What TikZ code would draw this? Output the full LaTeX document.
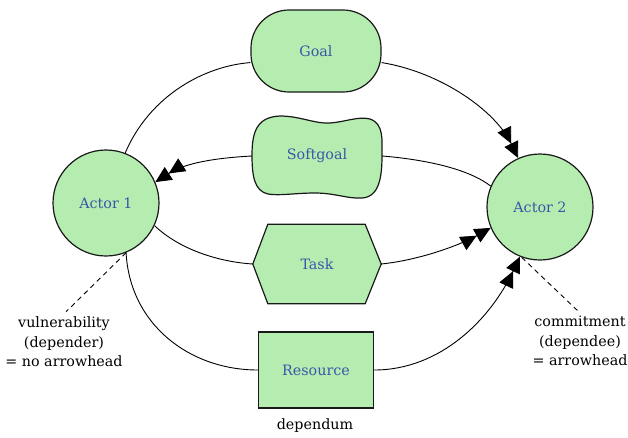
\documentclass[tikz,border=0pt]{standalone}
\usepackage{fontspec}
\setmainfont{DejaVu Serif}
\usetikzlibrary{arrows.meta,calc}
\definecolor{elemfill}{HTML}{B5EDB0}
\definecolor{elemtext}{HTML}{3A56A8}
\pgfdeclarelayer{background}
\pgfsetlayers{background,main}
\begin{document}
\begin{tikzpicture}[x=1pt,y=-1pt,
  every node/.style={font=\fontsize{14.3}{19.5}\selectfont},
  elem/.style={draw=black!90, line width=1.2pt, fill=elemfill, text=elemtext, inner sep=0pt},
  ghost/.style={inner sep=0pt, text=elemtext},
  actor/.style={elem, circle, minimum size=106pt},
  link/.style={line width=0.9pt},
  dep/.style={link, -{Triangle[length=16pt,width=15pt]Triangle[length=16pt,width=15pt]}},
  note/.style={align=center, text=black, inner sep=3pt},
]
\useasboundingbox (0,0) rectangle (628,437);

% actors
\node[actor] (a1) at (106,203) {Actor 1};
\node[actor] (a2) at (540,207) {Actor 2};

% dependums
\node[elem, rounded corners=38pt, minimum width=130pt, minimum height=82pt] (goal) at (316,51) {Goal};
\node[ghost, minimum width=130pt, minimum height=83pt] (soft) at (317,156) {Softgoal};
\node[ghost, minimum width=128pt, minimum height=79pt] (task) at (317,264) {Task};
\node[elem, minimum width=115pt, minimum height=76pt] (res) at (316,370) {Resource};
\node[text=black] (dependum) at (315,426) {dependum};

% outlines of the softgoal cloud and the task hexagon
\begin{pgfonlayer}{background}
  \draw[elem] (252,155) .. controls (252,130) and (258,117) .. (280,116)
    .. controls (300,116) and (315,124) .. (330,123)
    .. controls (345,122) and (358,116) .. (370,119)
    .. controls (384,124) and (382,140) .. (382,155)
    .. controls (382,175) and (380,197) .. (362,198)
    .. controls (348,199) and (335,193) .. (315,193)
    .. controls (295,193) and (280,196) .. (268,194)
    .. controls (254,191) and (252,175) .. cycle;
  \draw[elem] (task.west) -- ($(task.north west)+(15,0)$) -- ($(task.north east)+(-16,0)$)
    -- (task.east) -- ($(task.south east)+(-16,0)$) -- ($(task.south west)+(15,0)$) -- cycle;
\end{pgfonlayer}

% dependency links
\draw[link] (a1.69) .. controls (150,95) and (205,66) .. (goal.190);
\draw[dep] (goal.350) .. controls (440,72) and (495,110) .. (a2.114);

\draw[dep] (soft.west) .. controls (215,158) and (185,163) .. (a1.23);
\draw[link] (soft.east) .. controls (430,160) and (470,170) .. (a2.157);

\draw[link] (a1.-25) .. controls (180,250) and (220,262) .. (task.west);
\draw[dep] (task.east) .. controls (420,260) and (460,245) .. (a2.203);

\draw[link] (a1.-68) .. controls (130,325) and (190,370) .. (res.west);
\draw[dep] (res.east) .. controls (440,370) and (490,320) .. (a2.248);

% explanatory notes
\node[note] (vul) at (64,342) {vulnerability\\(depender)\\= no arrowhead};
\node[note] (com) at (580,341) {commitment\\(dependee)\\= arrowhead};
\draw[link, dash pattern=on 5pt off 4pt, shorten >=3pt] (a1.-68) -- (vul.north);
\draw[link, dash pattern=on 5pt off 4pt, shorten >=3pt] (a2.-110) -- (com.north);
\end{tikzpicture}
\end{document}
